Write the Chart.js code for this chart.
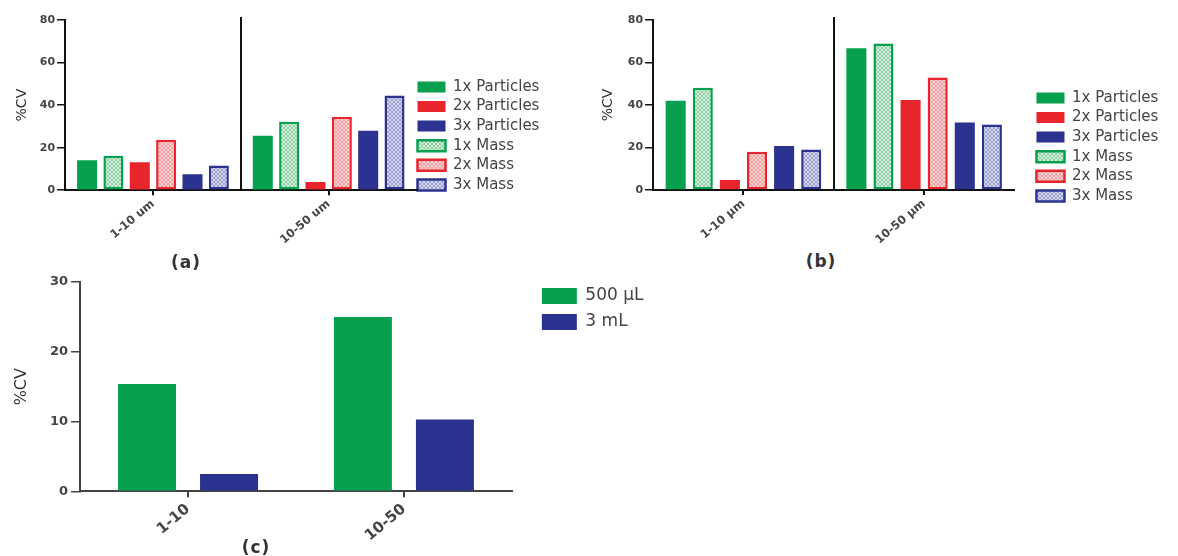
<!DOCTYPE html>
<html>
<head>
<meta charset="utf-8">
<script src="https://cdn.jsdelivr.net/npm/chart.js@4.4.1/dist/chart.umd.min.js"></script>
<style>
  html, body { margin: 0; padding: 0; background: #fff; }
  #wrap { position: relative; width: 1178px; height: 556px; background: #fff; overflow: hidden; }
  .panel { position: absolute; }
  .cap { position: absolute; transform: translate(-50%, -50%); font: bold 17px 'DejaVu Sans', sans-serif; color: #333; letter-spacing: 1px; white-space: nowrap; }
</style>
</head>
<body>
<div id="wrap">
  <div class="panel" style="left:0px;top:0px;width:575px;height:250px"><canvas id="chartA"></canvas></div>
  <div class="panel" style="left:590px;top:0px;width:588px;height:250px"><canvas id="chartB"></canvas></div>
  <div class="panel" style="left:0px;top:270px;width:660px;height:286px"><canvas id="chartC"></canvas></div>
  <div class="cap" style="left:186px;top:262px">(a)</div>
  <div class="cap" style="left:821px;top:261px">(b)</div>
  <div class="cap" style="left:256px;top:547px">(c)</div>
</div>
<script>
// ---------- data ----------
const categoriesA = ['1-10 um', '10-50 um'];
const categoriesB = ['1-10 \u00b5m', '10-50 \u00b5m'];
const categoriesC = ['1-10', '10-50'];
const seriesLabels = ['1x Particles', '2x Particles', '3x Particles', '1x Mass', '2x Mass', '3x Mass'];

const a1xParticles = [14.1, 25.6];
const a2xParticles = [13.2, 3.9];
const a3xParticles = [7.5, 27.9];
const a1xMass = [16.2, 32.2];
const a2xMass = [23.7, 34.5];
const a3xMass = [11.6, 44.5];

const b1xParticles = [42.0, 66.7];
const b2xParticles = [4.7, 42.4];
const b3xParticles = [20.7, 31.8];
const b1xMass = [48.1, 69.0];
const b2xMass = [18.0, 52.9];
const b3xMass = [19.1, 30.8];

const cLabels = ['500 \u00b5L', '3 mL'];
const c500uL = [15.4, 25.0];
const c3mL = [2.5, 10.3];

const yTicksAB = [0, 20, 40, 60, 80];
const yTicksC = [0, 10, 20, 30];

// ---------- styling ----------
Chart.defaults.font.family = "'DejaVu Sans', sans-serif";
Chart.defaults.color = '#444';

const GREEN = '#07a04f', RED = '#e8242c', BLUE = '#2c3290';

function hatch(base, dark) {
  const c = document.createElement('canvas');
  c.width = 4; c.height = 4;
  const x = c.getContext('2d');
  x.fillStyle = base; x.fillRect(0, 0, 4, 4);
  x.fillStyle = dark;
  for (let i = 0; i < 4; i++) { x.fillRect(i, i, 1, 1); x.fillRect(3 - i, i, 1, 1); }
  return x.createPattern(c, 'repeat');
}
const hatchG = hatch('#d3eedb', '#8fcea6');
const hatchR = hatch('#f9d2d3', '#ef9ea1');
const hatchB = hatch('#d4d6ee', '#9da1d0');

const legendNudge = {
  id: 'legendNudge',
  afterLayout(chart, args, opts) {
    const lg = chart.legend;
    if (!lg) return;
    const dx = opts.dx || 0, dy = opts.dy || 0;
    lg.left += dx; lg.right += dx; lg.top += dy; lg.bottom += dy;
  }
};

function sixDatasets(p1, p2, p3, m1, m2, m3) {
  const solid = (label, data, color, order) => ({
    label, data, order, backgroundColor: color, borderColor: color, borderWidth: 0, borderSkipped: false
  });
  const hatched = (label, data, pat, color, order) => ({
    label, data, order, backgroundColor: pat, borderColor: color, borderWidth: 2.5, borderSkipped: false
  });
  return [
    solid(seriesLabels[0], p1, GREEN, 0),
    solid(seriesLabels[1], p2, RED, 2),
    solid(seriesLabels[2], p3, BLUE, 4),
    hatched(seriesLabels[3], m1, hatchG, GREEN, 1),
    hatched(seriesLabels[4], m2, hatchR, RED, 3),
    hatched(seriesLabels[5], m3, hatchB, BLUE, 5)
  ];
}

function sixOptions(cfg) {
  return {
    responsive: true,
    maintainAspectRatio: false,
    animation: false,
    layout: { padding: cfg.padding },
    datasets: { bar: { categoryPercentage: 0.9, barPercentage: cfg.barPct } },
    plugins: {
      title: { display: false },
      tooltip: { enabled: false },
      legend: {
        display: true,
        position: 'right',
        align: 'end',
        labels: {
          boxWidth: 28, boxHeight: 11, padding: 4.6, color: '#444',
          font: { size: 15 },
          sort: (a, b) => a.datasetIndex - b.datasetIndex
        }
      },
      legendNudge: cfg.nudge
    },
    scales: {
      x: {
        offset: true,
        grid: { display: true, offset: false, drawOnChartArea: false, drawTicks: true, tickLength: 5, lineWidth: 2, color: '#111' },
        border: { display: true, color: '#111', width: 2 },
        ticks: { minRotation: 40, maxRotation: 40, padding: 2, color: '#444', font: { size: 11.5, weight: 'bold' } }
      },
      x2: {
        type: 'category',
        position: 'top',
        offset: true,
        ticks: { display: false },
        border: { display: false },
        grid: { display: true, offset: true, drawOnChartArea: true, drawTicks: true, tickLength: 3, lineWidth: 2,
                color: c => c.index === 1 ? '#111' : 'rgba(0,0,0,0)' }
      },
      y: {
        min: yTicksAB[0],
        max: yTicksAB[yTicksAB.length - 1],
        ticks: { stepSize: yTicksAB[1] - yTicksAB[0], padding: 2, color: '#444', font: { size: 11, weight: 'bold' } },
        grid: { display: true, drawOnChartArea: false, drawTicks: true, tickLength: 8, lineWidth: 1.5, color: '#111' },
        border: { display: true, color: '#111', width: 2 },
        title: { display: true, text: '%CV', color: '#333', font: { size: 14 }, padding: cfg.titlePad }
      }
    }
  };
}

new Chart(document.getElementById('chartA'), {
  type: 'bar',
  data: { labels: categoriesA, datasets: sixDatasets(a1xParticles, a2xParticles, a3xParticles, a1xMass, a2xMass, a3xMass) },
  options: sixOptions({ padding: { left: 10, right: 23, top: 17, bottom: 1 }, barPct: 0.76, nudge: { dx: -3.6, dy: -52 }, titlePad: { top: 4, bottom: 7 } }),
  plugins: [legendNudge]
});

new Chart(document.getElementById('chartB'), {
  type: 'bar',
  data: { labels: categoriesB, datasets: sixDatasets(b1xParticles, b2xParticles, b3xParticles, b1xMass, b2xMass, b3xMass) },
  options: sixOptions({ padding: { left: 2, right: 27, top: 17, bottom: 1 }, barPct: 0.74, nudge: { dx: 17.4, dy: -41 }, titlePad: { top: 8, bottom: 9 } }),
  plugins: [legendNudge]
});

new Chart(document.getElementById('chartC'), {
  type: 'bar',
  data: {
    labels: categoriesC,
    datasets: [
      { label: cLabels[0], data: c500uL, backgroundColor: GREEN, borderWidth: 0 },
      { label: cLabels[1], data: c3mL, backgroundColor: BLUE, borderWidth: 0 }
    ]
  },
  options: {
    responsive: true,
    maintainAspectRatio: false,
    animation: false,
    layout: { padding: { left: 9, right: 27.5, top: 12, bottom: 8 } },
    datasets: { bar: { categoryPercentage: 0.76, barPercentage: 0.707 } },
    plugins: {
      tooltip: { enabled: false },
      legend: {
        display: true, position: 'right', align: 'start',
        labels: { boxWidth: 35, boxHeight: 16, padding: 9, color: '#444', font: { size: 17 } }
      },
      legendNudge: { dx: 21, dy: -3.5 }
    },
    scales: {
      x: {
        offset: true,
        grid: { display: true, offset: false, drawOnChartArea: false, drawTicks: true, tickLength: 6, lineWidth: 2, color: '#444' },
        border: { display: true, color: '#444', width: 2 },
        ticks: { minRotation: 40, maxRotation: 40, padding: 3, color: '#444', font: { size: 15, weight: 'bold' } }
      },
      y: {
        min: yTicksC[0],
        max: yTicksC[yTicksC.length - 1],
        ticks: { stepSize: yTicksC[1] - yTicksC[0], padding: 3, color: '#444', font: { size: 13, weight: 'bold' } },
        grid: { display: true, drawOnChartArea: false, drawTicks: true, tickLength: 9, lineWidth: 1.5, color: '#444' },
        border: { display: true, color: '#444', width: 2 },
        title: { display: true, text: '%CV', color: '#333', font: { size: 16 }, padding: { top: 3.4, bottom: 15.4 } }
      }
    }
  },
  plugins: [legendNudge]
});
</script>
</body>
</html>
